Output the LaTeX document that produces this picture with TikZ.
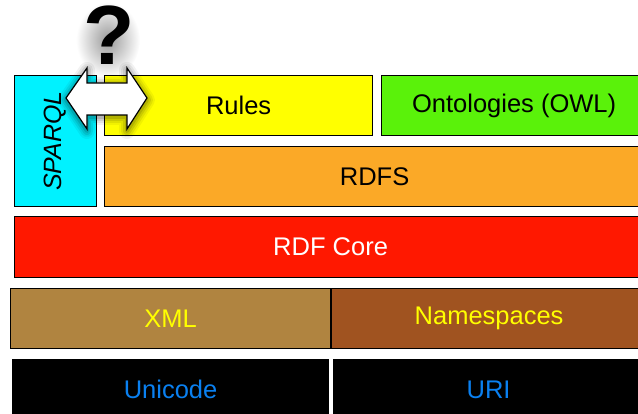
\documentclass[tikz,border=0pt]{standalone}
\usepackage{fontspec}
\setmainfont{Liberation Sans}
\newfontfamily\qfont{Liberation Sans}
\begin{document}
\begin{tikzpicture}[x=1pt,y=-1pt,
  layer/.style={draw=black, line width=1.2pt, rectangle, inner sep=0pt,
    anchor=north west, font=\fontsize{25.5}{30}\selectfont}
]
\definecolor{sparqlc}{RGB}{0,242,255}
\definecolor{rulesc}{RGB}{255,255,0}
\definecolor{owlc}{RGB}{90,242,10}
\definecolor{rdfsc}{RGB}{251,169,39}
\definecolor{corec}{RGB}{255,24,0}
\definecolor{xmlc}{RGB}{176,132,64}
\definecolor{nsc}{RGB}{160,83,32}
\definecolor{bluetext}{RGB}{10,128,240}

\useasboundingbox (0,0) rectangle (638,414);
\clip (0,0) rectangle (638,414);

% haze behind the question mark
\shade[inner color=black!40, outer color=white] (108,40) ellipse [x radius=32pt, y radius=38pt];

% stack of layers, top to bottom
\node[layer, fill=sparqlc, minimum width=82pt, minimum height=131pt] (sparql) at (14,75) {};
\node[rotate=90, font=\itshape\fontsize{25}{30}\selectfont] (sparqltxt) at (sparql.center) {SPARQL};
\node[layer, fill=rulesc, minimum width=268pt, minimum height=60pt] (rules) at (104,75) {Rules};
\node[layer, fill=owlc, minimum width=265pt, minimum height=60pt] (owl) at (381,75) {Ontologies (OWL)};
\node[layer, fill=rdfsc, minimum width=540pt, minimum height=60pt] (rdfs) at (104,146) {RDFS};
\node[layer, fill=corec, text=white, minimum width=632pt, minimum height=61pt] (core) at (14,216) {RDF Core};
\node[layer, fill=xmlc, text=rulesc, minimum width=320pt, minimum height=60pt] (xml) at (10,288) {XML};
\node[layer, fill=nsc, text=rulesc, minimum width=315pt, minimum height=60pt] (ns) at (331,288) {Namespaces};
\node[layer, fill=black, text=bluetext, minimum width=316pt, minimum height=60pt] (uni) at (12,359) {Unicode};
\node[layer, fill=black, text=bluetext, minimum width=310pt, minimum height=60pt] (uri) at (333,359) {URI};

% soft shadow behind the double arrow
\foreach \w/\o in {16/0.05,12/0.07,8/0.09,4/0.12}{
  \draw[line width=\w pt, black, opacity=\o, line join=round]
    (66,100) -- (87,70) -- (87,85) -- (127,85) -- (127,70) -- (147,100)
    -- (127,131) -- (127,117) -- (87,117) -- (87,131) -- cycle;
}
% double arrow between SPARQL and the rules layer
\draw[fill=white, draw=black, line width=1.2pt, line join=miter]
  (66,98) -- (87,68) -- (87,83) -- (127,83) -- (127,68) -- (147,98)
  -- (127,129) -- (127,115) -- (87,115) -- (87,129) -- cycle;

% question mark
\node[anchor=base, font=\qfont\bfseries\fontsize{84}{86}\selectfont] (qm) at (109,65) {?};
\end{tikzpicture}
\end{document}
